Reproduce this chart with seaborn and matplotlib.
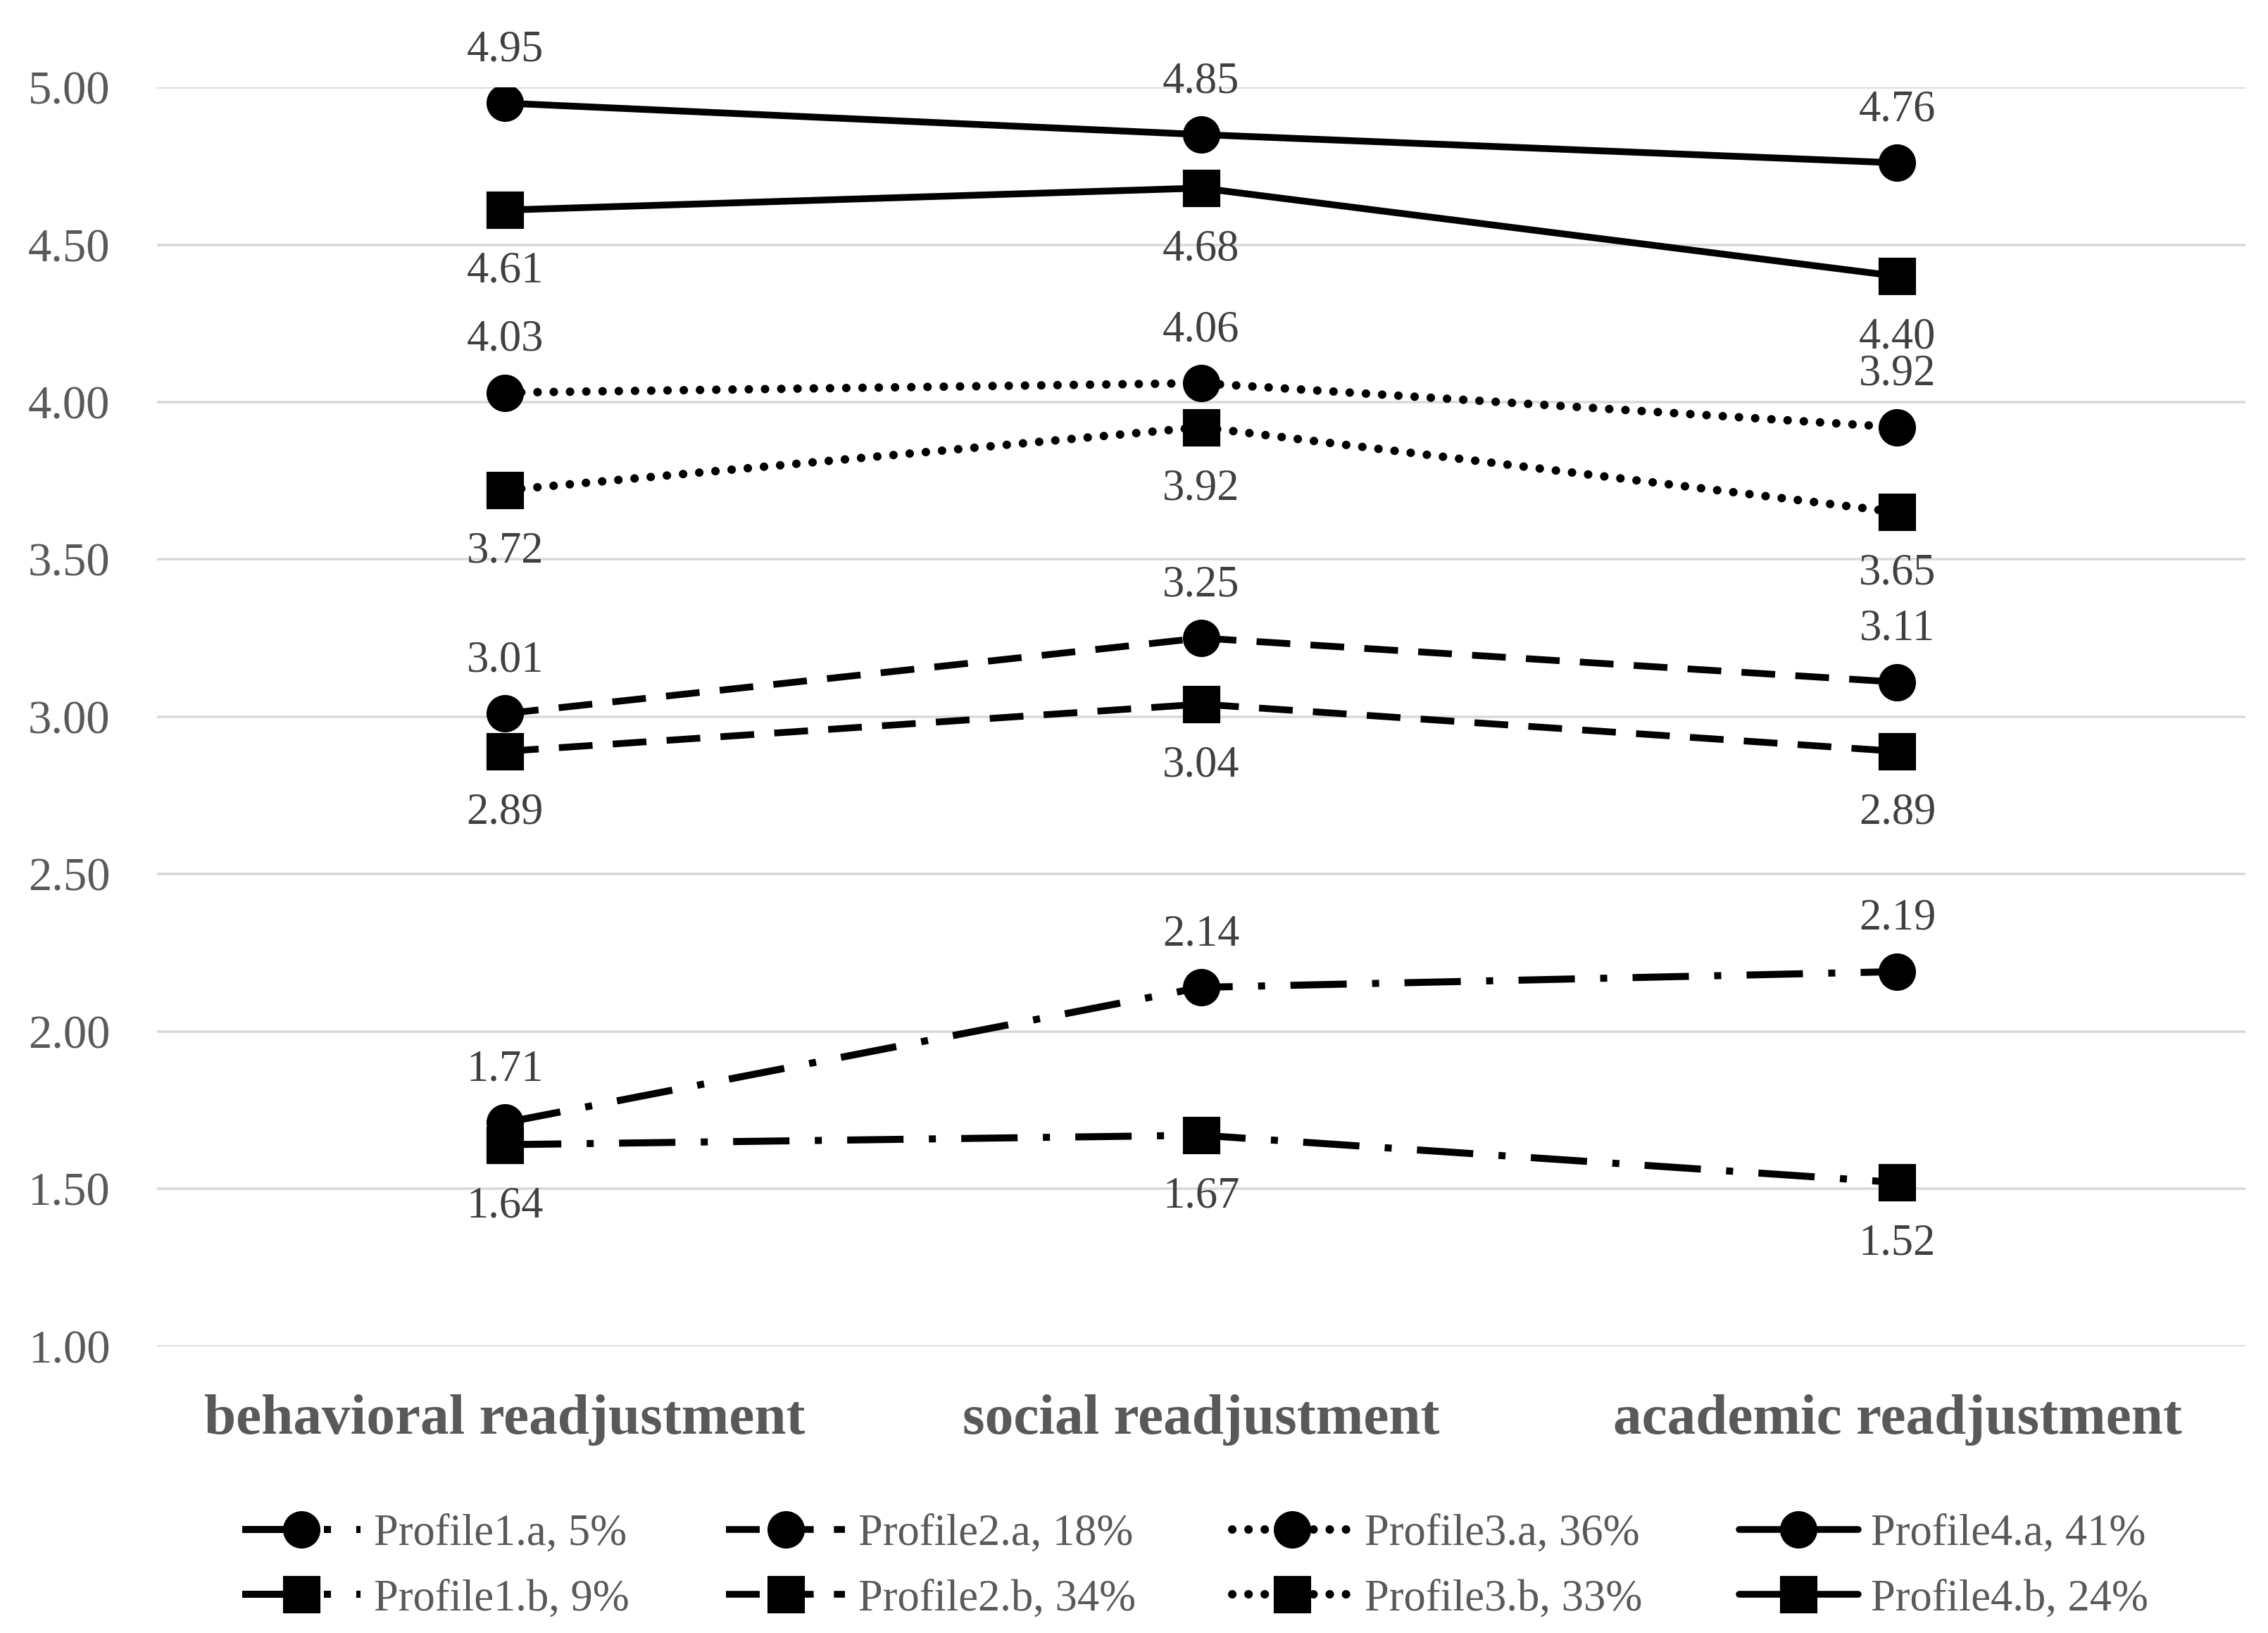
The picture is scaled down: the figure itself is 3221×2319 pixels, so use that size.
import matplotlib
matplotlib.use('Agg')
import matplotlib.pyplot as plt
import seaborn as sns
import pandas as pd

categories = ['behavioral readjustment', 'social readjustment', 'academic readjustment']

profile1_a = [1.71, 2.14, 2.19]
profile1_b = [1.64, 1.67, 1.52]
profile2_a = [3.01, 3.25, 3.11]
profile2_b = [2.89, 3.04, 2.89]
profile3_a = [4.03, 4.06, 3.92]
profile3_b = [3.72, 3.92, 3.65]
profile4_a = [4.95, 4.85, 4.76]
profile4_b = [4.61, 4.68, 4.40]

labels = ['Profile1.a, 5%', 'Profile1.b, 9%', 'Profile2.a, 18%', 'Profile2.b, 34%',
          'Profile3.a, 36%', 'Profile3.b, 33%', 'Profile4.a, 41%', 'Profile4.b, 24%']
series = [profile1_a, profile1_b, profile2_a, profile2_b,
          profile3_a, profile3_b, profile4_a, profile4_b]

# line style per profile group, marker per a/b
dashdot = (0, (8, 3.6, 1, 3.6))
dashed = (0, (5, 3))
dotted = (0, (0.01, 1.9))
line_styles = [dashdot, dashdot, dashed, dashed, dotted, dotted, '-', '-']
widths = [2.4, 2.4, 2.3, 2.3, 2.9, 2.9, 2.3, 2.3]
markers = ['o', 's'] * 4

sns.set_style('white')
plt.rcParams['font.family'] = ['Liberation Serif', 'DejaVu Serif']

fig, ax = plt.subplots(figsize=(3221 / 300, 2319 / 300), dpi=300)
fig.subplots_adjust(left=0.0692, right=0.990, top=0.9465, bottom=0.1757)

for name, values, ls, lw, mk in zip(labels, series, line_styles, widths, markers):
    df = pd.DataFrame({'category': categories, 'value': values})
    sns.lineplot(data=df, x='category', y='value', ax=ax, sort=False,
                 color='black', linewidth=lw, linestyle=ls,
                 dash_capstyle='round' if ls is dotted else 'butt',
                 marker=mk, markersize=12, markeredgecolor='black',
                 markerfacecolor='black', label=name)
    above = name.split(',')[0].endswith('a')
    for cat, v in zip(categories, values):
        ax.annotate(f'{v:.2f}', xy=(cat, v), xytext=(0, 18 if above else -21),
                    textcoords='offset points', ha='center', va='center',
                    fontsize=15, color='#404040')

ax.set_xlim(-0.5, 2.5)
ax.set_ylim(1, 5)
ax.set_yticks([1.0, 1.5, 2.0, 2.5, 3.0, 3.5, 4.0, 4.5, 5.0])
ax.set_yticklabels([f'{t:.2f}' for t in ax.get_yticks()])
ax.yaxis.grid(True, color='#d9d9d9', linewidth=0.85)
ax.set_axisbelow(True)
for s in ax.spines.values():
    s.set_visible(False)
ax.tick_params(axis='y', length=0, pad=16, labelsize=16, labelcolor='#595959')
ax.tick_params(axis='x', length=0, pad=16.5, labelsize=19.5, labelcolor='#595959')
for t in ax.get_xticklabels():
    t.set_fontweight('bold')
ax.set_xlabel('')
ax.set_ylabel('')

handles, lbls = ax.get_legend_handles_labels()
ax.legend_.remove()
fig.legend(handles, lbls, loc='center', bbox_to_anchor=(0.527, 0.0405), ncol=4,
           frameon=False, fontsize=15, labelcolor='#595959', handlelength=2.7,
           handletextpad=0.3, columnspacing=2.2, labelspacing=0.55)

plt.savefig('out.png', dpi=300)
